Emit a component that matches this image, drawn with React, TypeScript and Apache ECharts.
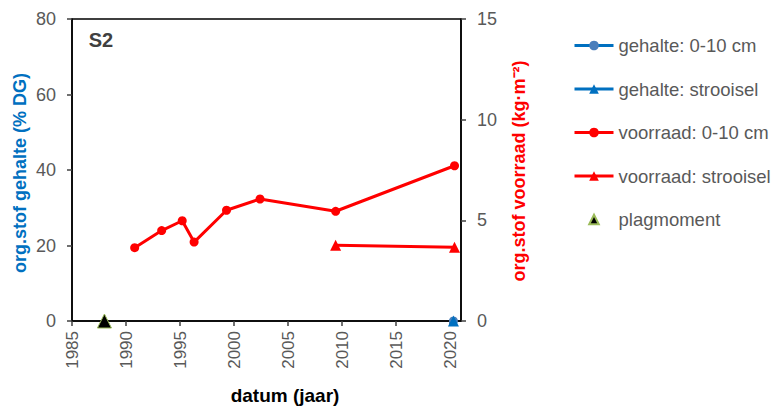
import React, { useEffect, useRef } from "react";
import * as echarts from "echarts";

const FONT = "'Liberation Sans', Arial, sans-serif";

const xTicks = [1985, 1990, 1995, 2000, 2005, 2010, 2015, 2020];
const leftTicks = [0, 20, 40, 60, 80];
const rightTicks = [0, 5, 10, 15];

const voorraad010Years = [1990.8, 1993.3, 1995.2, 1996.3, 1999.3, 2002.4, 2009.4, 2020.4];
const voorraad010Values = [3.64, 4.49, 4.98, 3.92, 5.5, 6.06, 5.45, 7.71];

const voorraadStrooiselYears = [2009.4, 2020.4];
const voorraadStrooiselValues = [3.76, 3.66];

const gehalte010Years = [2020.3];
const gehalte010Values = [0];

const gehalteStrooiselYears = [2020.3];
const gehalteStrooiselValues = [0];

const plagmomentYears = [1988];
const plagmomentValues = [0];

const seriesNames = [
  "gehalte: 0-10 cm",
  "gehalte: strooisel",
  "voorraad: 0-10 cm",
  "voorraad: strooisel",
  "plagmoment",
];

const zip = (xs: number[], ys: number[]) => xs.map((x, i) => [x, ys[i]]);

export default function App() {
  const ref = useRef<HTMLDivElement>(null);
  useEffect(() => {
    document.body.style.margin = "0";
    const chart = echarts.init(ref.current!, null, { renderer: "svg" });
    const tickLabel = { color: "#595959", fontSize: 18, fontFamily: FONT };
    chart.setOption({
      animation: false,
      backgroundColor: "#ffffff",
      grid: {
        left: 72,
        top: 19,
        right: 312,
        bottom: 89,
        show: true,
        borderColor: "#000000",
        borderWidth: 1.5,
        outerBoundsMode: "none",
      },
      xAxis: {
        type: "value",
        min: 1985,
        max: 2021,
        interval: 5,
        axisLine: { show: true, lineStyle: { color: "#000000", width: 1.5 } },
        axisTick: {
          show: true,
          length: 5,
          customValues: xTicks,
          lineStyle: { color: "#404040", width: 1.5 },
        },
        axisLabel: {
          ...tickLabel,
          fontSize: 17,
          rotate: 90,
          margin: 10,
          customValues: xTicks,
          formatter: (v: number) => String(v),
        },
        splitLine: { show: false },
      },
      yAxis: [
        {
          type: "value",
          position: "left",
          min: 0,
          max: 80,
          interval: 20,
          axisLine: { show: true, lineStyle: { color: "#000000", width: 1.5 } },
          axisTick: { show: true, length: 5, lineStyle: { color: "#404040", width: 1.5 } },
          axisLabel: { ...tickLabel, margin: 16, customValues: leftTicks },
          splitLine: { show: false },
        },
        {
          type: "value",
          position: "right",
          min: 0,
          max: 15,
          interval: 5,
          axisLine: { show: true, lineStyle: { color: "#000000", width: 1.5 } },
          axisTick: { show: true, length: 5, lineStyle: { color: "#404040", width: 1.5 } },
          axisLabel: { ...tickLabel, margin: 16, customValues: rightTicks },
          splitLine: { show: false },
        },
      ],
      legend: {
        orient: "vertical",
        left: 568,
        top: 31,
        itemWidth: 39,
        itemHeight: 12,
        itemGap: 24.5,
        selectedMode: false,
        lineStyle: { width: 3 },
        textStyle: { color: "#595959", fontSize: 18.5, fontFamily: FONT },
        data: [
          { name: seriesNames[0] },
          { name: seriesNames[1] },
          { name: seriesNames[2] },
          { name: seriesNames[3] },
          { name: seriesNames[4], lineStyle: { width: 0, opacity: 0 } },
        ],
      },
      graphic: [
        {
          type: "text",
          x: 101,
          y: 40,
          style: {
            text: "S2",
            fontSize: 20,
            fontWeight: "bold",
            fontFamily: FONT,
            fill: "#404040",
            align: "center",
            verticalAlign: "middle",
          },
        },
        {
          type: "text",
          x: 20,
          y: 173,
          rotation: Math.PI / 2,
          style: {
            text: "org.stof gehalte (% DG)",
            fontSize: 18,
            fontWeight: "bold",
            fontFamily: FONT,
            fill: "#0070C0",
            align: "center",
            verticalAlign: "middle",
          },
        },
        {
          type: "text",
          x: 519,
          y: 171,
          rotation: Math.PI / 2,
          style: {
            text: "org.stof voorraad (kg·m⁻²)",
            fontSize: 18,
            fontWeight: "bold",
            fontFamily: FONT,
            fill: "#FF0000",
            align: "center",
            verticalAlign: "middle",
          },
        },
        {
          type: "text",
          x: 285,
          y: 395,
          style: {
            text: "datum (jaar)",
            fontSize: 19,
            fontWeight: "bold",
            fontFamily: FONT,
            fill: "#000000",
            align: "center",
            verticalAlign: "middle",
          },
        },
      ],
      series: [
        {
          name: seriesNames[0],
          type: "line",
          yAxisIndex: 0,
          data: zip(gehalte010Years, gehalte010Values),
          symbol: "circle",
          symbolSize: 9,
          itemStyle: { color: "#4A7EBB" },
          lineStyle: { color: "#0070C0", width: 3 },
          z: 3,
        },
        {
          name: seriesNames[1],
          type: "line",
          yAxisIndex: 0,
          data: zip(gehalteStrooiselYears, gehalteStrooiselValues),
          symbol: "triangle",
          symbolSize: 11,
          itemStyle: { color: "#0070C0" },
          lineStyle: { color: "#0070C0", width: 3 },
          z: 4,
        },
        {
          name: seriesNames[2],
          type: "line",
          yAxisIndex: 1,
          data: zip(voorraad010Years, voorraad010Values),
          symbol: "circle",
          symbolSize: 9,
          itemStyle: { color: "#FF0000" },
          lineStyle: { color: "#FF0000", width: 3 },
          z: 3,
        },
        {
          name: seriesNames[3],
          type: "line",
          yAxisIndex: 1,
          data: zip(voorraadStrooiselYears, voorraadStrooiselValues),
          symbol: "triangle",
          symbolSize: 11,
          itemStyle: { color: "#FF0000" },
          lineStyle: { color: "#FF0000", width: 3 },
          z: 3,
        },
        {
          name: seriesNames[4],
          type: "line",
          yAxisIndex: 0,
          data: zip(plagmomentYears, plagmomentValues),
          symbol: "triangle",
          symbolSize: 14,
          itemStyle: { color: "#000000", borderColor: "#9BBB59", borderWidth: 1 },
          lineStyle: { width: 0, opacity: 0 },
          z: 5,
        },
      ],
    });
    return () => chart.dispose();
  }, []);
  return <div ref={ref} style={{ width: 773, height: 410 }} />;
}
